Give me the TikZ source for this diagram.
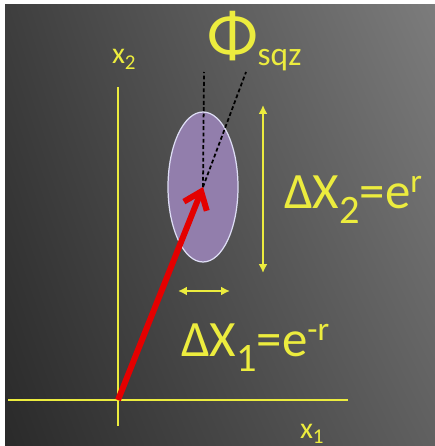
\documentclass[tikz,border=0pt]{standalone}
\usepackage{fontspec}
\setmainfont{Carlito}
\usetikzlibrary{arrows.meta,shapes.geometric,shadings}

\definecolor{axisyellow}{RGB}{236,236,62}
\definecolor{sqzfill}{RGB}{146,126,172}
\definecolor{sqzedge}{RGB}{222,222,245}
\definecolor{vecred}{RGB}{228,0,0}
\definecolor{bgtl}{RGB}{62,62,62}
\definecolor{bgtr}{RGB}{124,124,124}
\definecolor{bgbl}{RGB}{42,42,42}
\definecolor{bgbr}{RGB}{96,96,96}

\newcommand\bigfont{\fontsize{29}{29}\selectfont}
\newcommand\subfont{\fontsize{23}{23}\selectfont}
\newcommand\midfont{\fontsize{19}{19}\selectfont}
\newcommand\axfont{\fontsize{17}{17}\selectfont}
\newcommand\axsubfont{\fontsize{12}{12}\selectfont}

\begin{document}
\begin{tikzpicture}[
  x=0.02cm, y=-0.02cm,
  every node/.style={inner sep=0pt, outer sep=0pt},
  lbl/.style={text=axisyellow, anchor=base west},
  axis/.style={draw=axisyellow, line width=1.1pt},
  spread/.style={draw=axisyellow, line width=1.1pt, {Latex[length=5pt,width=5pt]}-{Latex[length=5pt,width=5pt]}},
  vec/.style={draw=vecred, line width=3.4pt, -{Straight Barb[length=9pt,width=14pt]}},
  guide/.style={draw=black, line width=1pt, dash pattern=on 2.2pt off 1.4pt},
  blob/.style={ellipse, draw=sqzedge, line width=0.7pt, fill=sqzfill,
    minimum width=70*0.02cm, minimum height=150*0.02cm}
]
% background
\fill[white] (0,0) rectangle (435,446);
\shade[upper left=bgtl, upper right=bgtr, lower left=bgbl, lower right=bgbr]
  (5,5) rectangle (435,446);

% axes
\coordinate (o) at (118,400);
\coordinate (xl) at (8,400);
\coordinate (xr) at (348,400);
\coordinate (yt) at (118,87);
\coordinate (yb) at (118,426);
\draw[axis] (xl) -- (xr);
\draw[axis] (yt) -- (yb);
\node[lbl] (x2) at (112,64) {\axfont x\lower3pt\hbox{\axsubfont 2}};
\node[lbl] (x1) at (300,438) {\axfont x\lower3pt\hbox{\axsubfont 1}};

% squeezed state
\node[blob] (sq) at (203,187) {};
\draw[vec] (o) -- (sq.center);
\coordinate (up) at (204,72);
\coordinate (tilt) at (246,72);
\draw[guide] (sq.center) -- (up);
\draw[guide] (sq.center) -- (tilt);
\node[lbl] (phi) at (207,58) {\fontsize{38}{38}\selectfont Φ\lower4pt\hbox{\midfont sqz}};

% uncertainties
\coordinate (v1) at (263,105);
\coordinate (v2) at (263,273);
\coordinate (h1) at (178,291);
\coordinate (h2) at (230,291);
\draw[spread] (v1) -- (v2);
\draw[spread] (h1) -- (h2);
\node[lbl] (dx2) at (284,208) {\bigfont ΔX\lower9pt\hbox{\subfont 2}=e\raise9pt\hbox{\midfont r}};
\node[lbl] (dx1) at (181,356) {\bigfont ΔX\lower9pt\hbox{\subfont 1}=e\raise9pt\hbox{\midfont -r}};
\end{tikzpicture}
\end{document}
